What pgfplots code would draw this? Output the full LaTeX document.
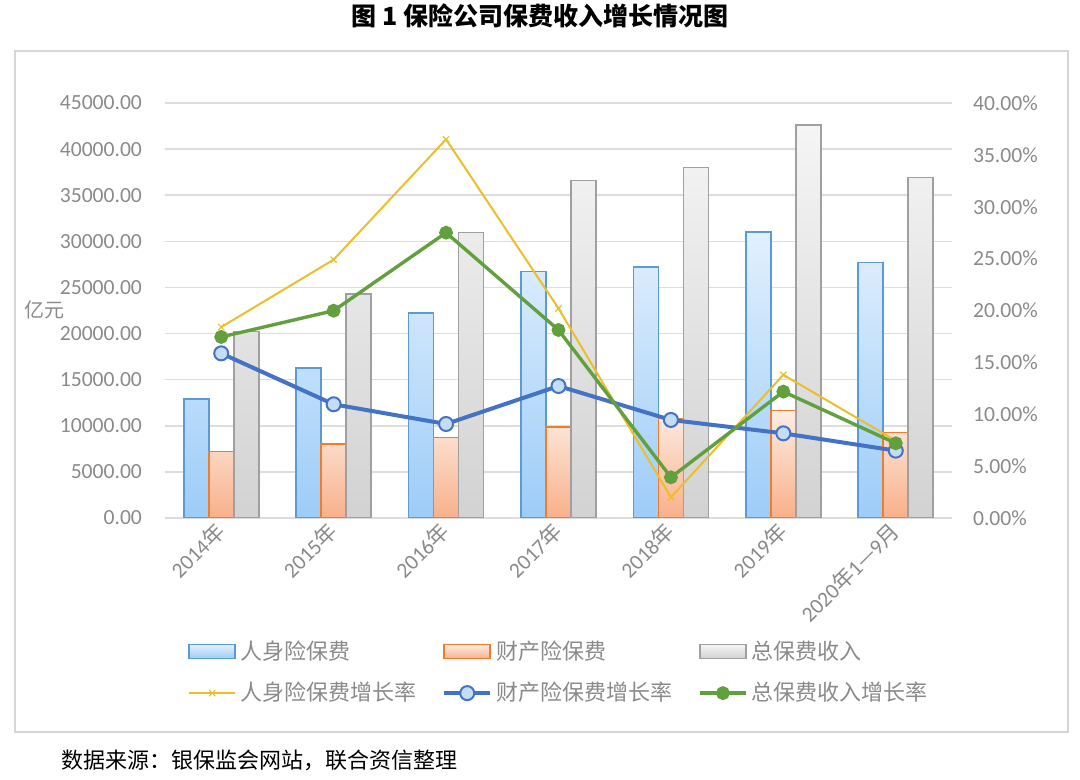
\documentclass[border=0pt]{standalone}
\usepackage{fontspec}
\setmainfont{Carlito}
\newfontfamily\cjk{Noto Sans CJK SC}
\usepackage{pgfplots}
\pgfplotsset{compat=1.18}

\definecolor{lifeE}{HTML}{5B9BD5}
\definecolor{lifeT}{HTML}{E2F0FD}
\definecolor{lifeB}{HTML}{9DCCF8}
\definecolor{propE}{HTML}{ED7D31}
\definecolor{propT}{HTML}{FDEDE3}
\definecolor{propB}{HTML}{F8B08A}
\definecolor{totE}{HTML}{A0A0A0}
\definecolor{totT}{HTML}{F5F5F5}
\definecolor{totB}{HTML}{D2D2D2}
\definecolor{ylw}{HTML}{EDBE2C}
\definecolor{blu}{HTML}{4472C4}
\definecolor{bluF}{HTML}{C4DDF5}
\definecolor{grn}{HTML}{62A03E}
\definecolor{txtgray}{HTML}{8A8A8A}
\definecolor{gridgray}{HTML}{DDDDDD}
\definecolor{framegray}{HTML}{D6D6D6}

\begin{document}
\begin{tikzpicture}
\useasboundingbox (0pt,0pt) rectangle (540pt,390pt);
\draw[framegray, line width=1pt] (7.5pt,24pt) rectangle (534pt,364.5pt);
\node[font=\cjk\bfseries\fontsize{12.5}{15}\selectfont] at (270pt,382pt) {图 1\ 保险公司保费收入增长情况图};
\node[anchor=west, font=\cjk\fontsize{11}{13}\selectfont] at (27pt,10pt) {数据来源：银保监会网站，联合资信整理};
\node[font=\cjk\fontsize{10}{12}\selectfont, text=txtgray] at (22.5pt,235pt) {亿元};

% bars, left axis
\begin{axis}[
    at={(82.5pt,131pt)}, anchor=south west,
    scale only axis, width=393.5pt, height=207.5pt,
    xmin=-0.5, xmax=6.5, ymin=0, ymax=45000,
    xtick={0,...,6},
    xticklabels={2014{\cjk 年},2015{\cjk 年},2016{\cjk 年},2017{\cjk 年},2018{\cjk 年},2019{\cjk 年},2020{\cjk 年}1{\cjk —}9{\cjk 月}},
    xticklabel style={rotate=45, anchor=east, font=\fontsize{10.8}{12}\selectfont, text=txtgray, yshift=-3pt},
    ytick={0,5000,...,45000},
    scaled y ticks=false,
    yticklabel style={font=\fontsize{10.8}{12}\selectfont, text=txtgray, xshift=-8pt},
    /pgf/number format/.cd, fixed, fixed zerofill, precision=2, 1000 sep={}, assume math mode=true,
    /pgfplots/.cd,
    major tick length=0pt,
    axis line style={draw=none},
    ymajorgrids, grid style={gridgray, line width=0.8pt},
]
\addplot[ybar, bar width=12.5pt, bar shift=-12.5pt, draw=lifeE, line width=0.8pt, top color=lifeT, bottom color=lifeB]
    coordinates {(0,12897)(1,16288)(2,22235)(3,26746)(4,27247)(5,30995)(6,27725)};
\addplot[ybar, bar width=12.5pt, bar shift=0pt, draw=propE, line width=0.8pt, top color=propT, bottom color=propB]
    coordinates {(0,7203)(1,7995)(2,8724)(3,9835)(4,10770)(5,11649)(6,9250)};
\addplot[ybar, bar width=12.5pt, bar shift=12.5pt, draw=totE, line width=0.8pt, top color=totT, bottom color=totB]
    coordinates {(0,20235)(1,24283)(2,30959)(3,36581)(4,38017)(5,42645)(6,36900)};
\end{axis}

% growth rates, right axis
\begin{axis}[
    at={(82.5pt,131pt)}, anchor=south west,
    scale only axis, width=393.5pt, height=207.5pt,
    xmin=-0.5, xmax=6.5, ymin=0, ymax=40,
    xtick=\empty,
    ytick={0,5,...,40},
    yticklabel pos=right,
    yticklabel={\pgfmathprintnumber[fixed,fixed zerofill,precision=2,assume math mode=true]{\tick}\%},
    yticklabel style={font=\fontsize{10.8}{12}\selectfont, text=txtgray, xshift=7pt},
    major tick length=0pt,
    axis line style={draw=none},
    clip=false,
    legend columns=3,
    legend cell align=left,
    legend image code/.code={\draw[mark repeat=2,mark phase=2,#1] plot coordinates {(0pt,0pt)(11.5pt,0pt)(23pt,0pt)};},
    legend style={at={(0.029,-0.285)}, anchor=north west, draw=none, inner sep=0pt,
        font=\cjk\fontsize{11}{13}\selectfont, text=txtgray,
        /tikz/every even column/.append style={column sep=11pt},
        row sep=6pt},
]
\addlegendimage{legend image code/.code={\draw[draw=lifeE, line width=0.8pt, top color=lifeT, bottom color=lifeB] (0pt,-3.5pt) rectangle (23pt,3.5pt);}}
\addlegendentry{人身险保费}
\addlegendimage{legend image code/.code={\draw[draw=propE, line width=0.8pt, top color=propT, bottom color=propB] (0pt,-3.5pt) rectangle (23pt,3.5pt);}}
\addlegendentry{财产险保费}
\addlegendimage{legend image code/.code={\draw[draw=totE, line width=0.8pt, top color=totT, bottom color=totB] (0pt,-3.5pt) rectangle (23pt,3.5pt);}}
\addlegendentry{总保费收入}
\addplot[ylw, line width=1pt, mark=x, mark size=2.2pt, mark options={line width=0.6pt}]
    coordinates {(0,18.4)(1,24.9)(2,36.5)(3,20.2)(4,2.0)(5,13.8)(6,7.45)};
\addlegendentry{人身险保费增长率}
\addplot[blu, line width=2pt, mark=*, mark size=3.5pt, mark options={fill=bluF, draw=blu, line width=1pt}]
    coordinates {(0,15.87)(1,10.96)(2,9.06)(3,12.72)(4,9.45)(5,8.16)(6,6.49)};
\addlegendentry{财产险保费增长率}
\addplot[grn, line width=1.7pt, mark=*, mark size=2.6pt, mark options={fill=grn}]
    coordinates {(0,17.45)(1,19.98)(2,27.5)(3,18.12)(4,3.92)(5,12.18)(6,7.2)};
\addlegendentry{总保费收入增长率}
\end{axis}
\end{tikzpicture}
\end{document}
